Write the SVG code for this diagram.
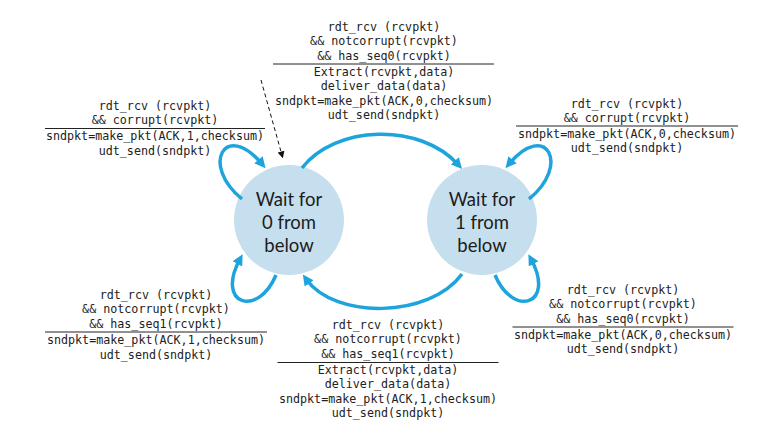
<svg xmlns="http://www.w3.org/2000/svg" width="768" height="435" viewBox="0 0 768 435">
<defs>
<style>
.st{fill:#c6dfee;}
.sl{font-family:Lato,"Open Sans","Noto Sans",sans-serif;font-size:18.5px;fill:#1c1c1c;text-anchor:middle;}
.t{font-family:"DejaVu Sans Mono","Liberation Mono",monospace;font-size:11.7px;fill:#222;text-anchor:middle;}
.rule{stroke:#222;stroke-width:1;}
.arc{fill:none;stroke:#1ea4dd;stroke-width:3.5;marker-end:url(#ah);}
</style>
<marker id="ah" viewBox="0 0 10 10" refX="5" refY="5" markerWidth="11" markerHeight="11" markerUnits="userSpaceOnUse" orient="auto">
<path d="M0,0 L10,5 L0,10 z" fill="#1ea4dd"/>
</marker>
<marker id="dh" viewBox="0 0 10 10" refX="8" refY="5" markerWidth="7" markerHeight="7" markerUnits="userSpaceOnUse" orient="auto">
<path d="M0,0 L10,5 L0,10 z" fill="#111"/>
</marker>
</defs>
<rect width="768" height="435" fill="#fff"/>

<g id="s0">
<circle class="st" cx="289" cy="220" r="55"/>
<text class="sl" x="289" y="205.5">Wait for</text>
<text class="sl" x="289" y="228.5">0 from</text>
<text class="sl" x="289" y="251.5">below</text>
</g>
<g id="s1">
<circle class="st" cx="482" cy="220" r="55"/>
<text class="sl" x="482" y="205.5">Wait for</text>
<text class="sl" x="482" y="228.5">1 from</text>
<text class="sl" x="482" y="251.5">below</text>
</g>

<g id="connectors">
<path class="arc" d="M302,168 C335,125 420,122 458.4,164.9"/>
<path class="arc" d="M462,274 C430,318 335,320 306,279"/>
<path class="arc" d="M242,199 C200,165 225,120 262,164"/>
<path class="arc" d="M529,199 C571,165 546,120 509,164"/>
<path class="arc" d="M276,275 C258,318 215,305 240,259"/>
<path class="arc" d="M495,275 C513,318 556,305 531,259"/>
<path d="M261,80 L282.5,157" fill="none" stroke="#111" stroke-width="1" stroke-dasharray="4,3" marker-end="url(#dh)"/>
</g>

<g id="label-top">
<text class="t" x="384" y="31">rdt_rcv (rcvpkt)</text>
<text class="t" x="384" y="45.3">&amp;&amp; notcorrupt(rcvpkt)</text>
<text class="t" x="384" y="59.6">&amp;&amp; has_seq0(rcvpkt)</text>
<line class="rule" x1="273" y1="64" x2="494" y2="64"/>
<text class="t" x="384" y="76">Extract(rcvpkt,data)</text>
<text class="t" x="384" y="90.3">deliver_data(data)</text>
<text class="t" x="384" y="104.6">sndpkt=make_pkt(ACK,0,checksum)</text>
<text class="t" x="384" y="118.9">udt_send(sndpkt)</text>
</g>

<g id="label-left-top">
<text class="t" x="155" y="109.5">rdt_rcv (rcvpkt)</text>
<text class="t" x="155" y="124">&amp;&amp; corrupt(rcvpkt)</text>
<line class="rule" x1="45" y1="128.5" x2="265" y2="128.5"/>
<text class="t" x="155" y="140">sndpkt=make_pkt(ACK,1,checksum)</text>
<text class="t" x="155" y="154.5">udt_send(sndpkt)</text>
</g>

<g id="label-right-top">
<text class="t" x="627" y="107.5">rdt_rcv (rcvpkt)</text>
<text class="t" x="627" y="122">&amp;&amp; corrupt(rcvpkt)</text>
<line class="rule" x1="516" y1="126" x2="738" y2="126"/>
<text class="t" x="627" y="137.5">sndpkt=make_pkt(ACK,0,checksum)</text>
<text class="t" x="627" y="152">udt_send(sndpkt)</text>
</g>

<g id="label-left-bottom">
<text class="t" x="156" y="298.5">rdt_rcv (rcvpkt)</text>
<text class="t" x="156" y="313">&amp;&amp; notcorrupt(rcvpkt)</text>
<text class="t" x="156" y="327.5">&amp;&amp; has_seq1(rcvpkt)</text>
<line class="rule" x1="45" y1="332" x2="267" y2="332"/>
<text class="t" x="156" y="344">sndpkt=make_pkt(ACK,1,checksum)</text>
<text class="t" x="156" y="358.5">udt_send(sndpkt)</text>
</g>

<g id="label-right-bottom">
<text class="t" x="623" y="293.5">rdt_rcv (rcvpkt)</text>
<text class="t" x="623" y="308">&amp;&amp; notcorrupt(rcvpkt)</text>
<text class="t" x="623" y="322.5">&amp;&amp; has_seq0(rcvpkt)</text>
<line class="rule" x1="512.5" y1="327" x2="733.5" y2="327"/>
<text class="t" x="623" y="338.5">sndpkt=make_pkt(ACK,0,checksum)</text>
<text class="t" x="623" y="353">udt_send(sndpkt)</text>
</g>

<g id="label-bottom">
<text class="t" x="388" y="328.5">rdt_rcv (rcvpkt)</text>
<text class="t" x="388" y="343">&amp;&amp; notcorrupt(rcvpkt)</text>
<text class="t" x="388" y="357.5">&amp;&amp; has_seq1(rcvpkt)</text>
<line class="rule" x1="277.5" y1="362.5" x2="498.5" y2="362.5"/>
<text class="t" x="388" y="373.5">Extract(rcvpkt,data)</text>
<text class="t" x="388" y="388">deliver_data(data)</text>
<text class="t" x="388" y="402.5">sndpkt=make_pkt(ACK,1,checksum)</text>
<text class="t" x="388" y="417">udt_send(sndpkt)</text>
</g>
</svg>
